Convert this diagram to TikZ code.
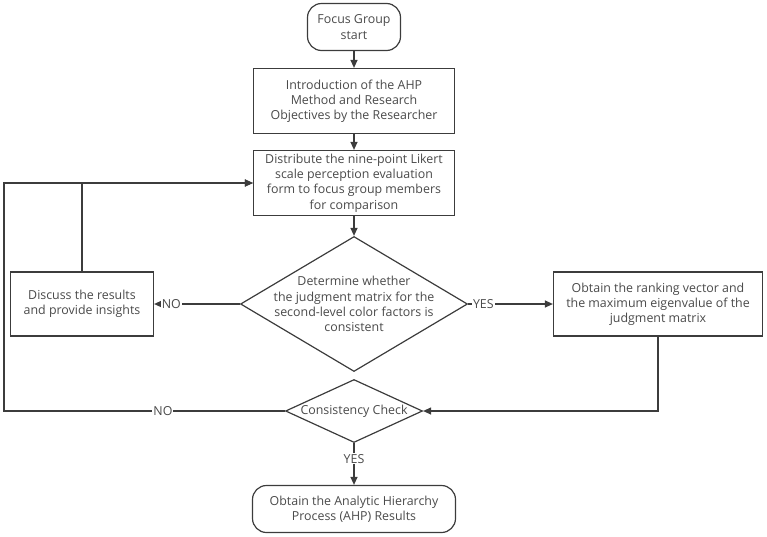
\documentclass[tikz,border=0pt]{standalone}
\usepackage{fontspec}
\setmainfont{Open Sans}
\usetikzlibrary{shapes.geometric,arrows.meta}
\definecolor{ln}{HTML}{3C3C3C}
\definecolor{tx}{HTML}{4A4A4A}
\tikzstyle{terminal}=[draw=ln,rectangle,rounded corners=14pt,line width=1.2pt,text=tx,align=center,inner sep=0pt,font=\fontsize{12.4}{15.2}\selectfont]
\tikzstyle{process}=[draw=ln,rectangle,line width=1.2pt,text=tx,align=center,inner sep=0pt,font=\fontsize{12.4}{15.2}\selectfont]
\tikzstyle{decision}=[draw=ln,diamond,line width=1.2pt,inner sep=0pt]
\tikzstyle{txt}=[text=tx,align=center,inner sep=0pt,font=\fontsize{12.4}{15.2}\selectfont]
\tikzstyle{arrow}=[draw=ln,line width=1.2pt,-{Triangle[length=8pt,width=7pt]}]
\tikzstyle{lbl}=[fill=white,text=tx,inner sep=1pt,font=\fontsize{12.4}{14}\selectfont]

\begin{document}
\begin{tikzpicture}[x=1pt,y=-1pt]
\useasboundingbox (0,0) rectangle (767,536);

\node[terminal,minimum width=93pt,minimum height=47pt] (start) at (354, 27) {Focus Group\\start};
\node[process,minimum width=201pt,minimum height=65pt] (intro) at (354, 101) {Introduction of the AHP\\Method and Research\\Objectives by the Researcher};
\node[process,minimum width=201pt,minimum height=65pt] (form) at (354, 183) {Distribute the nine-point Likert\\scale perception evaluation\\form to focus group members\\for comparison};

\node[decision,minimum width=227pt,minimum height=135pt] (judge) at (354, 304) {};
\node[txt] (judgetxt) at (354, 304) {Determine whether\\the judgment matrix for the\\second-level color factors is\\consistent};

\node[process,minimum width=143pt,minimum height=64pt] (discuss) at (82, 304) {Discuss the results\\and provide insights};
\node[process,minimum width=209pt,minimum height=64pt] (rank) at (658, 304) {Obtain the ranking vector and\\the maximum eigenvalue of the\\judgment matrix};

\node[decision,minimum width=137pt,minimum height=63pt] (check) at (354, 411) {};
\node[txt] (checktxt) at (354, 411) {Consistency Check};

\node[terminal,minimum width=203pt,minimum height=47pt] (result) at (354, 509) {Obtain the Analytic Hierarchy\\Process (AHP) Results};

\coordinate (lowleft) at (4, 411);
\coordinate (upleft) at (4, 183);

\draw[arrow] (start) -- (intro);
\draw[arrow] (intro) -- (form);
\draw[arrow] (form) -- (judge);
\draw[arrow] (judge.west) -- node[lbl,pos=0.8] {NO} (discuss.east);
\draw[arrow] (judge.east) -- node[lbl,pos=0.18] {YES} (rank.west);
\draw[arrow] (discuss.north) |- (form.west);
\draw[arrow] (rank.south) |- (check.east);
\draw[arrow] (check.west) -- node[lbl,pos=0.434] {NO} (lowleft) -- (upleft) -- (form.west);
\draw[arrow] (check.south) -- node[lbl,pos=0.37] {YES} (result.north);

\end{tikzpicture}
\end{document}
